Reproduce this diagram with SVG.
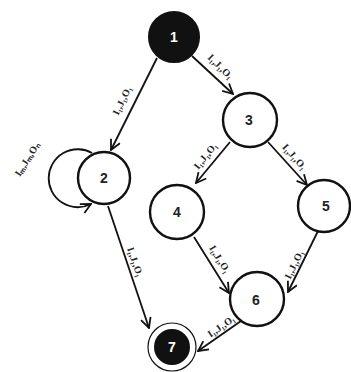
<svg xmlns="http://www.w3.org/2000/svg" width="351" height="372" viewBox="0 0 351 372">
<defs>
<marker id="arr" viewBox="0 0 12 12" refX="11" refY="6" markerWidth="12" markerHeight="12" markerUnits="userSpaceOnUse" orient="auto">
<path d="M1,1 L11,6 L1,11" fill="none" stroke="#111" stroke-width="1.8"/>
</marker>
</defs>
<style>
.n{fill:#fff;stroke:#111;stroke-width:2.4}
.b{fill:#111;stroke:#111;stroke-width:2}
.r{fill:none;stroke:#111;stroke-width:1.2}
.t{font-family:"Liberation Sans",Arial,sans-serif;font-size:14px;font-weight:bold;fill:#222;text-anchor:middle;dominant-baseline:central}
.w{fill:#fff}
.e{fill:none;stroke:#111;stroke-width:1.8;marker-end:url(#arr)}
.l{font-family:"Liberation Serif","Times New Roman",serif;font-size:10px;font-weight:bold;fill:#222;text-anchor:middle}
</style>
<rect width="351" height="372" fill="#fff"/>
<g id="connectors">
<line class="e" x1="157" y1="58" x2="111" y2="150"/>
<line class="e" x1="192" y1="56" x2="233" y2="94"/>
<line class="e" x1="230" y1="142" x2="196" y2="183"/>
<line class="e" x1="268" y1="142" x2="307" y2="185"/>
<line class="e" x1="194" y1="237" x2="229" y2="293"/>
<line class="e" x1="318" y1="231" x2="288" y2="292"/>
<line class="e" x1="108" y1="206" x2="149" y2="328"/>
<line class="e" x1="241" y1="321" x2="198" y2="351"/>
<path class="e" d="M92 153 A29 29 0 1 0 91 204"/>
<text class="l" transform="translate(125,102) rotate(-64)">I₁,J₁,O₁</text>
<text class="l" transform="translate(218,69) rotate(44)">I₁,J₁,O₁</text>
<text class="l" transform="translate(208,158) rotate(-51)">I₁,J₁,O₁</text>
<text class="l" transform="translate(292,159) rotate(48)">I₁,J₁,O₁</text>
<text class="l" transform="translate(217,261) rotate(58)">I₁,J₁,O₁</text>
<text class="l" transform="translate(297,266) rotate(-64)">I₁,J₁,O₁</text>
<text class="l" transform="translate(132,263) rotate(71)">I₁,J₁,O₁</text>
<text class="l" transform="translate(223,329) rotate(-35)">I₁,J₁,O₁</text>
<text class="l" transform="translate(30,161) rotate(-58)">Iₘ,Jₘ,Oₙ</text>
</g>
<g id="node1"><circle class="b" cx="174" cy="37" r="25"/><text class="t w" x="174" y="37">1</text></g>
<g id="node2"><circle class="n" cx="104" cy="178" r="26"/><text class="t" x="104" y="178">2</text></g>
<g id="node3"><circle class="n" cx="250" cy="120" r="27"/><text class="t" x="249" y="120">3</text></g>
<g id="node4"><circle class="n" cx="177" cy="212" r="27"/><text class="t" x="177" y="212">4</text></g>
<g id="node5"><circle class="n" cx="324" cy="206" r="26"/><text class="t" x="326" y="206">5</text></g>
<g id="node6"><circle class="n" cx="257" cy="299" r="27"/><text class="t" x="256" y="300">6</text></g>
<g id="node7"><circle class="r" cx="172" cy="347" r="24"/><circle class="b" cx="172" cy="347" r="17"/><text class="t w" x="172" y="347">7</text></g>
</svg>
